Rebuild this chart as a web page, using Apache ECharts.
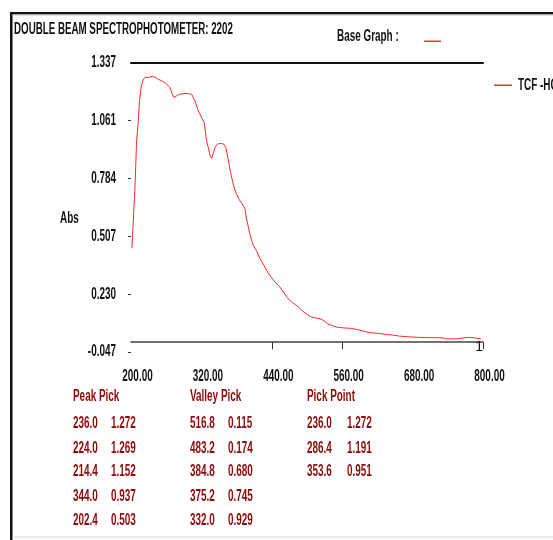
<!DOCTYPE html>
<html>
<head>
<meta charset="utf-8">
<script src="https://cdn.jsdelivr.net/npm/echarts@6/dist/echarts.min.js"></script>
<style>
  html, body { margin: 0; padding: 0; background: #fff; }
  #chart { width: 553px; height: 540px; }
</style>
</head>
<body>
<div id="chart"></div>
<script>
// Absorbance scan, wavelength in nm
const wavelength = [
  201.5, 202.4, 203.5, 206.5, 209.5, 212.5, 214.4, 217.5, 220.5, 224.0,
  229.5, 236.0, 241.0, 246.5, 252.0, 258.0, 263.0, 266.5, 270.0, 273.0,
  275.0, 279.0, 283.5, 286.4, 292.0, 298.0, 303.5, 308.5, 314.5, 320.0,
  325.0, 328.5, 332.0, 334.5, 337.5, 340.0, 344.0, 348.5, 353.6, 357.5,
  361.5, 365.5, 369.5, 375.2, 379.5, 384.8, 389.0, 394.0, 397.0, 402.5,
  408.0, 414.0, 420.0, 425.0, 431.0, 436.5, 445.0, 453.5, 460.0, 467.5,
  475.0, 483.2, 492.0, 501.5, 508.0, 516.8, 522.0, 527.0, 535.5, 544.0,
  553.0, 565.0, 575.5, 590.0, 600.0, 610.0, 622.0, 635.0, 646.0, 658.0,
  672.0, 689.0, 710.0, 731.0, 737.0, 755.0, 765.0, 776.0, 786.0, 797.0
];
const absorbance = [
  0.450, 0.503, 0.560, 0.720, 0.960, 1.060, 1.152, 1.225, 1.255, 1.269,
  1.268, 1.272, 1.270, 1.259, 1.252, 1.243, 1.230, 1.219, 1.190, 1.172,
  1.168, 1.182, 1.188, 1.191, 1.191, 1.190, 1.187, 1.158, 1.110, 1.077,
  1.050, 0.968, 0.929, 0.895, 0.880, 0.905, 0.937, 0.951, 0.951, 0.950,
  0.934, 0.878, 0.815, 0.745, 0.712, 0.680, 0.665, 0.640, 0.590, 0.520,
  0.465, 0.438, 0.400, 0.376, 0.345, 0.320, 0.290, 0.265, 0.240, 0.209,
  0.190, 0.174, 0.150, 0.130, 0.120, 0.115, 0.112, 0.106, 0.088, 0.078,
  0.071, 0.068, 0.066, 0.058, 0.050, 0.045, 0.042, 0.037, 0.034, 0.029,
  0.026, 0.023, 0.022, 0.021, 0.016, 0.016, 0.020, 0.023, 0.021, 0.015
];

// Axis tick values and labels
const xTicks = [200, 320, 440, 560, 680, 800];
const xTickMarks = [440, 560, 800];
const yTicks = [-0.047, 0.230, 0.507, 0.784, 1.061, 1.337];
const yTickMarks = [-0.047, 0.230, 0.507, 0.784, 1.061];

// Peak / valley / pick-point readouts
const peakWl = [236.0, 224.0, 214.4, 344.0, 202.4];
const peakAbs = [1.272, 1.269, 1.152, 0.937, 0.503];
const valleyWl = [516.8, 483.2, 384.8, 375.2, 332.0];
const valleyAbs = [0.115, 0.174, 0.680, 0.745, 0.929];
const pointWl = [236.0, 286.4, 353.6];
const pointAbs = [1.272, 1.191, 0.951];

const titleText = 'DOUBLE BEAM SPECTROPHOTOMETER: 2202';
const seriesName = 'TCF -HCl';

const FONT = 'bold 16px "Liberation Sans", Arial, sans-serif';
const NARROW = 0.62;           // horizontal squeeze of the instrument font
const TEXT_DARK = '#111';
const TABLE_RED = '#8e0a0a';
const CURVE_RED = '#ff2a2a';

const chart = echarts.init(document.getElementById('chart'), null, { renderer: 'canvas' });

const points = wavelength.map((w, i) => [w, absorbance[i]]);

// Narrow text item anchored at (x, y)
function label(x, y, text, color, align, sx) {
  return {
    type: 'text', x: x, y: y, scaleX: sx || NARROW, z: 10,
    style: { text: text, fill: color || TEXT_DARK, font: FONT,
             align: align || 'left', verticalAlign: 'middle' }
  };
}

function tableColumn(x, x2, header, wls, vals) {
  const items = [label(x, 397, header, TABLE_RED)];
  const rowY = [424, 449, 472, 497, 521];
  wls.forEach((w, i) => {
    items.push(label(x, rowY[i], w.toFixed(1), TABLE_RED));
    items.push(label(x2, rowY[i], vals[i].toFixed(3), TABLE_RED));
  });
  return items;
}

const staticGraphics = [
  // window frame
  { type: 'rect', shape: { x: 10, y: 12, width: 2.5, height: 530 }, style: { fill: '#111' } },
  { type: 'rect', shape: { x: 10, y: 12, width: 545, height: 2.5 }, style: { fill: '#111' } },
  { type: 'rect', shape: { x: 12.5, y: 14.5, width: 542, height: 1 }, style: { fill: '#c8c8c8' } },
  { type: 'rect', shape: { x: 12.5, y: 536.5, width: 542, height: 1 }, style: { fill: '#d8d8d8' } },
  // header
  label(14, 30, titleText, TEXT_DARK, 'left', 0.61),
  label(337, 37, 'Base Graph :', TEXT_DARK),
  { type: 'rect', shape: { x: 424, y: 40.5, width: 17, height: 1.5 }, style: { fill: CURVE_RED } },
  // series key
  { type: 'rect', shape: { x: 494, y: 84.5, width: 18, height: 1.5 }, style: { fill: CURVE_RED } },
  label(518, 86, seriesName, TEXT_DARK),
  // axis name
  label(60, 219, 'Abs', TEXT_DARK)
]
  .concat(tableColumn(73, 111, 'Peak Pick', peakWl, peakAbs))
  .concat(tableColumn(190, 228, 'Valley Pick', valleyWl, valleyAbs))
  .concat(tableColumn(307, 347, 'Pick Point', pointWl, pointAbs));

const option = {
  animation: false,
  backgroundColor: '#fff',
  grid: { left: 131, right: 70, top: 63, bottom: 188, containLabel: false },
  xAxis: [{
    type: 'value', min: 200, max: 800,
    splitLine: { show: false },
    axisLine: { show: true, lineStyle: { color: '#444', width: 1.5 } },
    axisTick: { show: true, length: 7, customValues: xTickMarks, lineStyle: { color: '#333', width: 1 } },
    axisLabel: { show: false }
  }, {
    // upper rule of the plot
    type: 'value', min: 200, max: 800, position: 'top',
    splitLine: { show: false },
    axisLine: { show: true, lineStyle: { color: '#111', width: 2 } },
    axisTick: { show: false },
    axisLabel: { show: false }
  }],
  yAxis: {
    type: 'value', min: -0.047, max: 1.337,
    splitLine: { show: false },
    axisLine: { show: false },
    axisTick: { show: true, length: 3, customValues: yTickMarks, lineStyle: { color: '#333', width: 1 } },
    axisLabel: { show: false }
  },
  series: [{
    name: seriesName,
    type: 'line',
    data: points,
    showSymbol: false,
    lineStyle: { color: CURVE_RED, width: 1 },
    itemStyle: { color: CURVE_RED },
    markPoint: {
      symbol: 'rect', symbolSize: 0.1,
      label: { show: true, formatter: '1', color: TEXT_DARK, fontSize: 14,
               fontFamily: '"Liberation Sans", Arial, sans-serif', offset: [-2, 8] },
      data: [{ coord: points[points.length - 1] }]
    }
  }],
  graphic: staticGraphics
};

chart.setOption(option);

// Tick labels placed through the axis scales, drawn in the narrow instrument font
const axisLabels = [];
xTicks.forEach(v => {
  const p = chart.convertToPixel({ xAxisIndex: 0, yAxisIndex: 0 }, [v, -0.047]);
  axisLabels.push(label(p[0] + 6.5, p[1] + 25, v.toFixed(2), TEXT_DARK, 'center'));
});
yTicks.forEach(v => {
  const p = chart.convertToPixel({ xAxisIndex: 0, yAxisIndex: 0 }, [200, v]);
  axisLabels.push(label(p[0] - 15, p[1], v.toFixed(3), TEXT_DARK, 'right'));
});

chart.setOption({ graphic: staticGraphics.concat(axisLabels) });
</script>
</body>
</html>
